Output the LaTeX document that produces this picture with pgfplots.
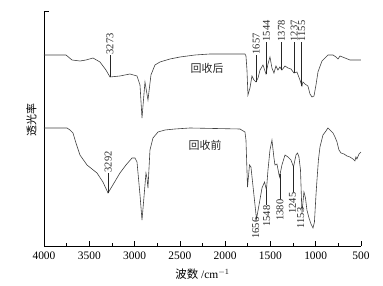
\documentclass[border=0pt]{standalone}
\usepackage{pgfplots}
\pgfplotsset{compat=1.18}
\usepackage{fontspec}
\setmainfont{Liberation Serif}
\newfontfamily\cjk{Noto Sans CJK SC}
\begin{document}
\begin{tikzpicture}
\begin{axis}[
  scale only axis, width=317bp, height=235bp,
  x dir=reverse, xmin=500, xmax=4000, ymin=0, ymax=235,
  axis x line*=bottom, axis y line*=left, axis line style={-, line width=0.7pt},
  xtick={500,1000,...,4000}, minor x tick num=1,
  ytick={235}, yticklabels={},
  tick align=inside, major tick length=5bp, minor tick length=2.5bp,
  tick style={line width=0.7pt, black},
  /pgf/number format/assume math mode=true,
  /pgf/number format/1000 sep={},
  ticklabel style={font=\fontsize{11.5}{13}\selectfont},
  xticklabel style={yshift=-2bp},
  xlabel={{\cjk 波数} /cm$^{-1}$},
  xlabel style={at={(axis description cs:0.5,0)}, anchor=center, yshift=-28bp, font=\fontsize{11.5}{13}\selectfont},
  ylabel={\cjk 透光率},
  ylabel style={at={(axis description cs:-0.040,0.536)}, anchor=center, font=\fontsize{11}{13}\selectfont},
  clip=false,
]
% top curve (after recovery)
\addplot[black!75, line width=0.6pt] coordinates {
(4000,191)(3757,191)(3691,186)(3603,185)(3536,186)(3459,188)(3382,184)(3316,176)
(3271,169)(3161,170)(3051,172)(2973,170)(2940,161)(2918,128)(2885,164)(2852,146)
(2819,171)(2775,181)(2720,184)(2609,187)(2498,189)(2333,191)(2167,192)(1946,192)
(1781,192)(1770,190)(1759,176)(1748,151)(1726,158)(1704,170)(1682,166)(1660,164)
(1637,168)(1615,176)(1582,181)(1549,172)(1527,182)(1505,189)(1483,178)(1461,173)
(1439,180)(1417,176)(1395,179)(1373,176)(1339,180)(1306,178)(1273,177)(1240,173)
(1207,174)(1174,166)(1152,160)(1141,164)(1119,162)(1086,160)(1063,152)(1041,149)
(1019,150)(997,161)(975,174)(931,185)(865,191)(809,191)(776,189)(754,187)
(732,190)(677,188)(622,186)(567,186)(500,186)
};
% bottom curve (before recovery)
\addplot[black!75, line width=0.6pt] coordinates {
(4000,118)(3746,118)(3713,116)(3680,113)(3647,103)(3603,91)(3525,81)(3415,73)
(3349,64)(3293,53)(3227,63)(3161,73)(3095,81)(3028,88)(2995,88)(2973,84)
(2940,51)(2918,26)(2896,49)(2874,73)(2863,68)(2852,58)(2830,96)(2797,108)
(2741,114)(2664,116)(2554,117)(2388,118)(1836,117)(1781,114)(1770,106)(1753,59)
(1731,81)(1715,79)(1682,51)(1654,27)(1626,41)(1593,58)(1565,64)(1544,56)
(1527,76)(1505,96)(1483,106)(1461,88)(1450,81)(1428,82)(1400,69)(1373,81)
(1339,91)(1306,89)(1273,86)(1245,79)(1218,91)(1201,93)(1185,89)(1168,76)
(1152,33)(1130,54)(1113,48)(1097,36)(1074,28)(1052,22)(1030,18)(1014,24)
(997,51)(986,66)(970,86)(953,99)(920,111)(887,115)(865,118)(843,116)
(809,113)(787,109)(765,104)(743,96)(721,93)(688,92)(655,90)(622,89)
(589,87)(567,85)(556,89)(545,87)(522,92)(500,94)
};
% annotations: top
\begin{scope}[font=\fontsize{10.5}{12}\selectfont, black!85]
\draw (axis cs:3273,169) -- (axis cs:3273,191);
\node[rotate=90, anchor=west, inner sep=0.5pt] at (axis cs:3273,191) {3273};
\draw (axis cs:1657,164) -- (axis cs:1657,191);
\node[rotate=90, anchor=west, inner sep=0.5pt] at (axis cs:1657,191) {1657};
\draw (axis cs:1544,172) -- (axis cs:1544,204);
\node[rotate=90, anchor=west, inner sep=0.5pt] at (axis cs:1544,204) {1544};
\draw (axis cs:1378,176) -- (axis cs:1378,204);
\node[rotate=90, anchor=west, inner sep=0.5pt] at (axis cs:1378,204) {1378};
\draw (axis cs:1237,173) -- (axis cs:1237,204);
\node[rotate=90, anchor=west, inner sep=0.5pt] at (axis cs:1237,204) {1237};
\draw (axis cs:1155,160) -- (axis cs:1155,204);
\node[rotate=90, anchor=west, inner sep=0.5pt] at (axis cs:1155,204) {1155};
% bottom
\draw (axis cs:3292,53) -- (axis cs:3292,73);
\node[rotate=90, anchor=west, inner sep=0.5pt] at (axis cs:3292,73) {3292};
\node[rotate=90, anchor=east, inner sep=0.5pt] at (axis cs:1662,29) {1656};
\draw (axis cs:1548,56) -- (axis cs:1548,41);
\node[rotate=90, anchor=east, inner sep=0.5pt] at (axis cs:1540,41) {1548};
\draw (axis cs:1390,72) -- (axis cs:1390,47);
\node[rotate=90, anchor=east, inner sep=0.5pt] at (axis cs:1395,47) {1380};
\draw (axis cs:1250,80) -- (axis cs:1250,54);
\node[rotate=90, anchor=east, inner sep=0.5pt] at (axis cs:1256,54) {1245};
\node[rotate=90, anchor=east, inner sep=0.5pt] at (axis cs:1165,39) {1153};
\node[font=\fontsize{11}{13}\selectfont] at (axis cs:2200,178) {\cjk 回收后};
\node[font=\fontsize{11}{13}\selectfont] at (axis cs:2222,101) {\cjk 回收前};
\end{scope}
\end{axis}
\path[use as bounding box] ([shift={(-44bp,-40bp)}]current axis.south west) rectangle ([shift={(22bp,11bp)}]current axis.north east);
\end{tikzpicture}
\end{document}
